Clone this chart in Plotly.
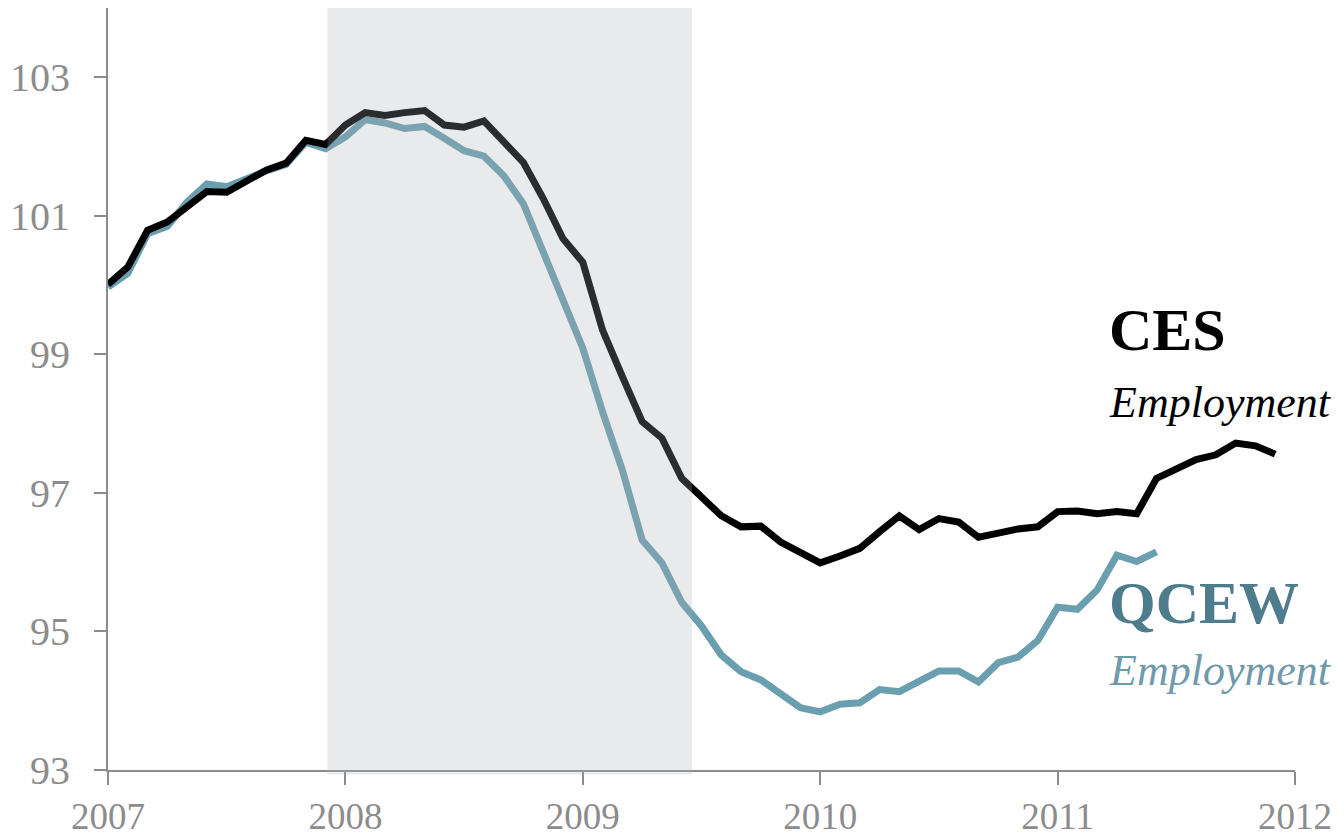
import plotly.graph_objects as go

# Monthly index values, Jan 2007 onward
ces = [100.01, 100.26, 100.79, 100.91, 101.13, 101.35, 101.34, 101.51, 101.66, 101.76, 102.09, 102.03,
       102.31, 102.49, 102.45, 102.49, 102.52, 102.31, 102.28, 102.37, 102.08, 101.77, 101.25, 100.67, 100.33,
       99.35, 98.68, 98.03, 97.79, 97.21, 96.94, 96.67, 96.51, 96.52, 96.29, 96.13, 95.99, 96.09, 96.20,
       96.44, 96.67, 96.47, 96.63, 96.58, 96.36, 96.42, 96.48, 96.51, 96.73, 96.74, 96.70, 96.73, 96.70,
       97.21, 97.35, 97.48, 97.55, 97.72, 97.68, 97.56]
qcew = [99.97, 100.17, 100.74, 100.85, 101.20, 101.46, 101.42, 101.54, 101.65, 101.74, 102.06, 101.97,
        102.14, 102.39, 102.34, 102.26, 102.29, 102.12, 101.94, 101.86, 101.58, 101.17, 100.46, 99.78, 99.09,
        98.17, 97.33, 96.32, 95.99, 95.42, 95.08, 94.66, 94.42, 94.30, 94.11, 93.90, 93.84, 93.95, 93.97,
        94.16, 94.13, 94.27, 94.43, 94.43, 94.27, 94.55, 94.63, 94.87, 95.35, 95.32, 95.60, 96.10, 96.01,
        96.15]
start_year = 2007
x_ces = [start_year + i / 12 for i in range(len(ces))]
x_qcew = [start_year + i / 12 for i in range(len(qcew))]

year_ticks = [2007, 2008, 2009, 2010, 2011, 2012]
y_ticks = [93, 95, 97, 99, 101, 103]
recession = (2007.924, 2009.46)

FONT = "Liberation Serif"
GRAY = "#8c8c8c"
TEAL = "#6a9fb0"

fig = go.Figure()
fig.add_trace(go.Scatter(x=x_qcew, y=qcew, mode="lines", line=dict(color=TEAL, width=7),
                         showlegend=False, hoverinfo="skip"))
fig.add_trace(go.Scatter(x=x_ces, y=ces, mode="lines", line=dict(color="#000000", width=7),
                         showlegend=False, hoverinfo="skip"))

fig.add_shape(type="rect", xref="x", yref="paper", x0=recession[0], x1=recession[1], y0=-0.006, y1=1,
              fillcolor="rgba(168,172,180,0.255)", line=dict(width=0), layer="above")

ann_x = 2011.21
fig.add_annotation(x=ann_x, y=99.35, xref="x", yref="y", text="<b>CES</b>", showarrow=False,
                   xanchor="left", yanchor="middle", font=dict(family=FONT, size=60, color="#000000"))
fig.add_annotation(x=ann_x, y=98.30, xref="x", yref="y", text="<i>Employment</i>", showarrow=False,
                   xanchor="left", yanchor="middle", font=dict(family=FONT, size=44, color="#000000"))
fig.add_annotation(x=ann_x, y=95.41, xref="x", yref="y", text="<b>QCEW</b>", showarrow=False,
                   xanchor="left", yanchor="middle", font=dict(family=FONT, size=60, color="#4e7c8c"))
fig.add_annotation(x=ann_x, y=94.44, xref="x", yref="y", text="<i>Employment</i>", showarrow=False,
                   xanchor="left", yanchor="middle", font=dict(family=FONT, size=44, color="#6e9aaa"))

# page body has an 8px margin; compensate so plot area sits at x 108-1295, y 8-770
fig.update_layout(
    width=1336, height=831,
    margin=dict(l=100, r=49, t=0, b=69, autoexpand=False),
    paper_bgcolor="white", plot_bgcolor="white",
    font=dict(family=FONT, color=GRAY),
)
fig.update_xaxes(range=[2007, 2012], tickvals=year_ticks, ticktext=[str(v) for v in year_ticks],
                 showgrid=False, zeroline=False, showline=True, linecolor=GRAY, linewidth=2,
                 ticks="outside", ticklen=13, tickwidth=2, tickcolor=GRAY, automargin=False,
                 tickfont=dict(family=FONT, size=37, color=GRAY), ticklabelstandoff=0)
fig.update_yaxes(range=[93, 104], tickvals=y_ticks, ticktext=[str(v) for v in y_ticks],
                 showgrid=False, zeroline=False, showline=True, linecolor=GRAY, linewidth=2,
                 ticks="outside", ticklen=12, tickwidth=2, tickcolor=GRAY, automargin=False,
                 tickfont=dict(family=FONT, size=40, color=GRAY), ticklabelstandoff=16)

fig.write_html("out.html")
